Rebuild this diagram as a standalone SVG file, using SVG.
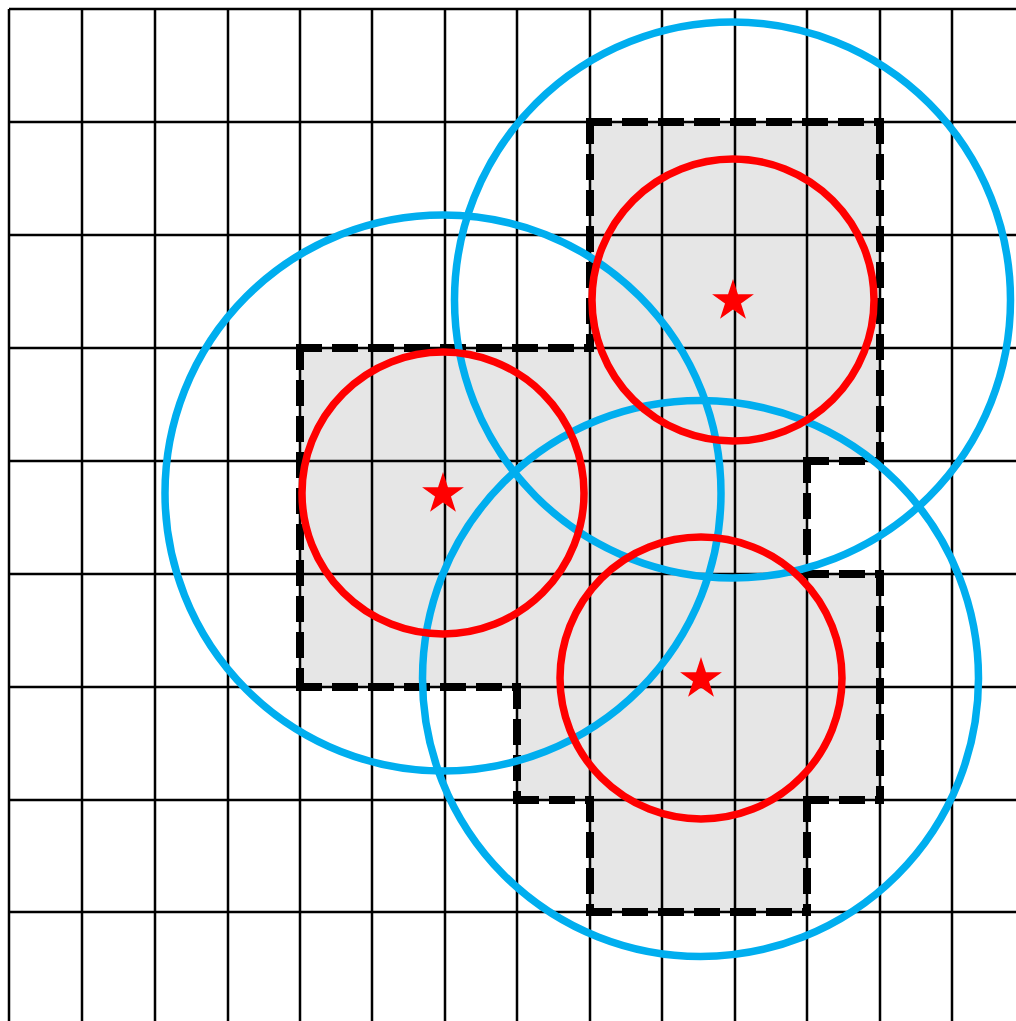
<svg xmlns="http://www.w3.org/2000/svg" width="1016" height="1021" viewBox="0 0 1016 1021">
<style>
.grid line{stroke:#000;stroke-width:2.5}
.region{fill:#e6e6e6;stroke:none}
.border line{stroke:#000;stroke-width:8;stroke-linecap:square;stroke-dasharray:18 18}
.blue{fill:none;stroke:#00aeef;stroke-width:7.5}
.red{fill:none;stroke:#ff0000;stroke-width:7.5}
.star{fill:#ff0000}
</style>
<defs>
<path id="star" d="M0,-22 L4.94,-6.8 L20.92,-6.8 L7.99,2.6 L12.93,17.8 L0,8.4 L-12.93,17.8 L-7.99,2.6 L-20.92,-6.8 L-4.94,-6.8 Z"/>
</defs>
<rect width="1016" height="1021" fill="#fff"/>
<g id="region-fill">
<path class="region" d="M300,348 H590 V122 H880 V461 H807 V574 H880 V800 H807 V912 H590 V800 H517 V687 H300 Z"/>
</g>
<g id="grid" class="grid">
<line x1="9" y1="9" x2="9" y2="1021"/>
<line x1="82" y1="9" x2="82" y2="1021"/>
<line x1="155" y1="9" x2="155" y2="1021"/>
<line x1="228" y1="9" x2="228" y2="1021"/>
<line x1="300" y1="9" x2="300" y2="1021"/>
<line x1="372" y1="9" x2="372" y2="1021"/>
<line x1="445" y1="9" x2="445" y2="1021"/>
<line x1="517" y1="9" x2="517" y2="1021"/>
<line x1="590" y1="9" x2="590" y2="1021"/>
<line x1="662" y1="9" x2="662" y2="1021"/>
<line x1="735" y1="9" x2="735" y2="1021"/>
<line x1="807" y1="9" x2="807" y2="1021"/>
<line x1="880" y1="9" x2="880" y2="1021"/>
<line x1="952" y1="9" x2="952" y2="1021"/>
<line x1="9" y1="9" x2="1016" y2="9"/>
<line x1="9" y1="122" x2="1016" y2="122"/>
<line x1="9" y1="235" x2="1016" y2="235"/>
<line x1="9" y1="348" x2="1016" y2="348"/>
<line x1="9" y1="461" x2="1016" y2="461"/>
<line x1="9" y1="574" x2="1016" y2="574"/>
<line x1="9" y1="687" x2="1016" y2="687"/>
<line x1="9" y1="800" x2="1016" y2="800"/>
<line x1="9" y1="912" x2="1016" y2="912"/>
</g>
<g id="region-border" class="border">
<line x1="300" y1="348" x2="590" y2="348"/>
<line x1="590" y1="122" x2="590" y2="348"/>
<line x1="590" y1="122" x2="880" y2="122"/>
<line x1="880" y1="122" x2="880" y2="461"/>
<line x1="807" y1="461" x2="880" y2="461"/>
<line x1="807" y1="461" x2="807" y2="574"/>
<line x1="807" y1="574" x2="880" y2="574"/>
<line x1="880" y1="574" x2="880" y2="800"/>
<line x1="807" y1="800" x2="880" y2="800"/>
<line x1="807" y1="800" x2="807" y2="912"/>
<line x1="590" y1="912" x2="807" y2="912"/>
<line x1="590" y1="800" x2="590" y2="912"/>
<line x1="517" y1="800" x2="590" y2="800"/>
<line x1="517" y1="687" x2="517" y2="800"/>
<line x1="300" y1="687" x2="517" y2="687"/>
<line x1="300" y1="348" x2="300" y2="687"/>
</g>
<g id="blue-circles">
<circle class="blue" cx="443" cy="493" r="278"/>
<circle class="blue" cx="732.5" cy="300" r="278"/>
<circle class="blue" cx="700.5" cy="678.5" r="278"/>
</g>
<g id="red-circles">
<circle class="red" cx="443" cy="493" r="141"/>
<circle class="red" cx="733" cy="300" r="141"/>
<circle class="red" cx="701" cy="678" r="141"/>
</g>
<g id="stars">
<use href="#star" class="star" x="443" y="494"/>
<use href="#star" class="star" x="733" y="301"/>
<use href="#star" class="star" x="701" y="679"/>
</g>
</svg>
